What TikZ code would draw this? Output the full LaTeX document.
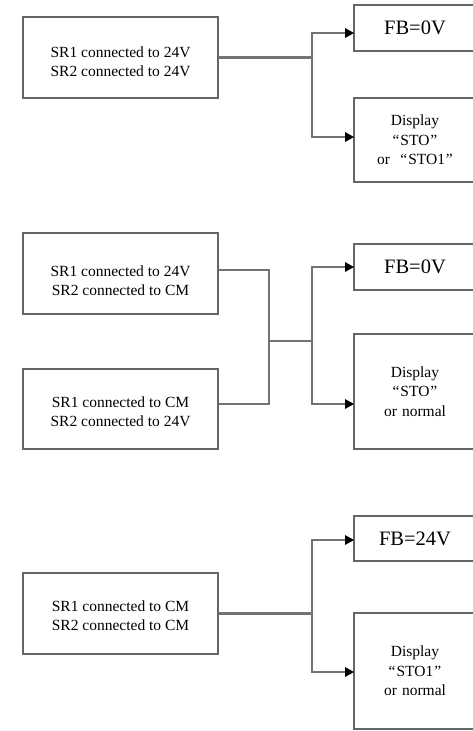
\documentclass[tikz,border=0pt]{standalone}
\usepackage{fontspec}
\setmainfont{Liberation Serif}
\usetikzlibrary{arrows.meta,positioning}

\newcommand{\qt}[1]{“\kern1pt#1\kern1pt”}

\tikzset{
  sbox/.style={draw=gray!80!black, line width=1.6pt, align=center, font=\fontsize{15.5}{19.5}\selectfont},
  lbox/.style={sbox, minimum width=195pt, minimum height=81pt},
  ltext/.style={align=center, font=\fontsize{15.5}{19}\selectfont},
  rbox/.style={sbox, minimum width=122pt, text width=110pt},
  conn/.style={draw=gray!90!black, line width=2.8pt},
  arr/.style={conn, -{Triangle[length=9pt,width=9pt,black]}, shorten >=-1pt}
}

\begin{document}
\begin{tikzpicture}[x=1pt,y=-1pt]
\useasboundingbox (0,0) rectangle (473,731);
\clip (0,0) rectangle (473,731);

% case 1
\node[lbox, label={[ltext, yshift=-4pt]center:SR1 connected to 24V\\SR2 connected to 24V}] (sr1) at (120.5,57.5) {};
\node[rbox, minimum height=46pt, font=\fontsize{20.5}{24}\selectfont] (fb1) at (415,28) {FB=0V};
\node[rbox, minimum height=84pt] (dp1) at (415,140) {Display\\\qt{STO}\\or\ \ \qt{STO1}};

% case 2
\node[lbox, label={[ltext, yshift=-7.5pt]center:SR1 connected to 24V\\SR2 connected to CM}] (sr2a) at (120.5,273.5) {};
\node[lbox, minimum height=80pt, label={[ltext, yshift=-2.5pt]center:SR1 connected to CM\\SR2 connected to 24V}] (sr2b) at (120.5,409) {};
\node[rbox, minimum height=46pt, font=\fontsize{20.5}{24}\selectfont] (fb2) at (415,267) {FB=0V};
\node[rbox, minimum height=115pt] (dp2) at (415,391.5) {Display\\\qt{STO}\\or normal};

% case 3
\node[lbox, label={[ltext, yshift=-2.5pt]center:SR1 connected to CM\\SR2 connected to CM}] (sr3) at (120.5,613.5) {};
\node[rbox, minimum height=45pt, font=\fontsize{20.5}{24}\selectfont] (fb3) at (415,538.5) {FB=24V};
\node[rbox, minimum height=116pt] (dp3) at (415,671) {Display\\\qt{STO1}\\or normal};

\coordinate (j1) at (312,58);
\coordinate (m2) at (269,341);
\coordinate (j2) at (312,341);
\coordinate (j3) at (312,614);

\draw[conn] (sr1.east) -- (sr1.east -| j1);
\draw[arr] (sr1.east -| j1) |- ([yshift=-5pt]fb1.west);
\draw[arr] (sr1.east -| j1) |- ([yshift=3pt]dp1.west);

\draw[conn] ([yshift=3.5pt]sr2a.east) -| (m2);
\draw[conn] ([yshift=5pt]sr2b.east) -| (m2);
\draw[conn] (m2) -- (j2);
\draw[arr] (j2) |- (fb2.west);
\draw[arr] (j2) |- ([yshift=-12.5pt]dp2.west);

\draw[conn] (sr3.east) -- (sr3.east -| j3);
\draw[arr] (sr3.east -| j3) |- ([yshift=-1.5pt]fb3.west);
\draw[arr] (sr3.east -| j3) |- ([yshift=-1pt]dp3.west);
\end{tikzpicture}
\end{document}
